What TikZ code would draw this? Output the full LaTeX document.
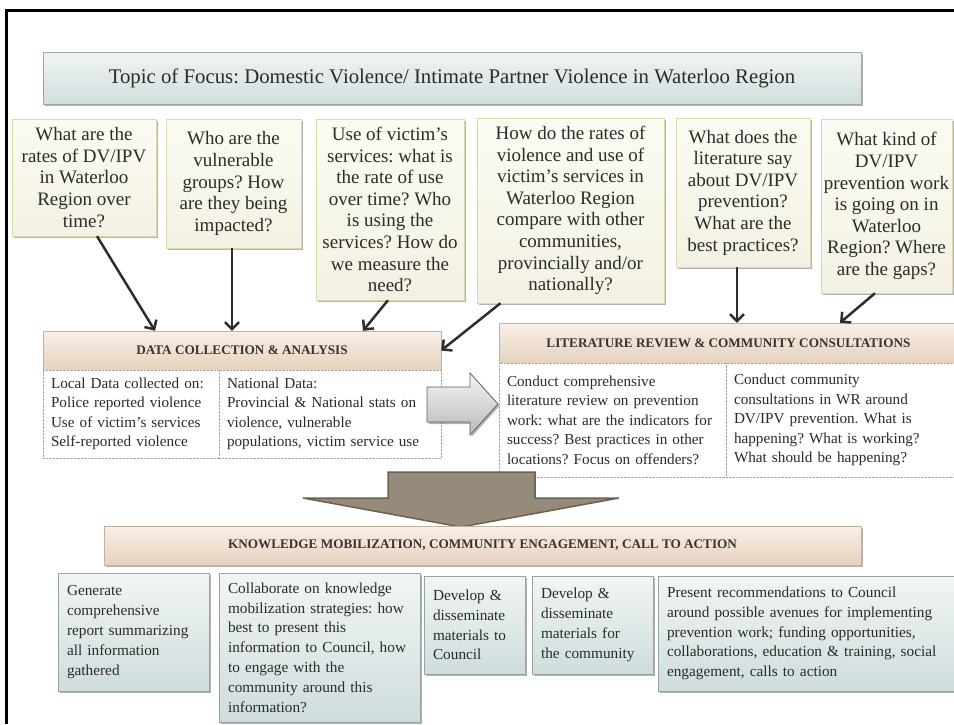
\documentclass[tikz,border=0pt]{standalone}
\usepackage{fontspec}
\setmainfont{Liberation Serif}
\usetikzlibrary{arrows.meta,shadows}
\frenchspacing

\begin{document}
\begin{tikzpicture}[x=1pt,y=-1pt,
    shadowed/.style={drop shadow={shadow xshift=1.5pt,shadow yshift=-2pt,fill=black,opacity=0.3}},
    titlebox/.style={shadowed,draw=title_edge,top color=title_top,bottom color=title_bot,text=txt,
        minimum width=818,minimum height=52,font=\fontsize{20.8}{24}\selectfont},
    qbox/.style={shadowed,draw=q_edge,top color=q_top,bottom color=q_bot,text=txt,align=center,
        inner sep=2pt,font=\fontsize{19}{21.6}\selectfont},
    headbox/.style={draw=head_edge,top color=head_top,bottom color=head_bot,text=head_txt,
        minimum height=39,font=\fontsize{13.2}{15}\selectfont\bfseries},
    panel/.style={draw=panel_edge,densely dotted,fill=white,text=txt,align=left,inner xsep=8pt,
        font=\fontsize{15.2}{19.5}\selectfont},
    actbox/.style={shadowed,draw=act_edge,top color=act_top,bottom color=act_bot,text=txt,align=left,
        inner xsep=9pt,font=\fontsize{15.3}{19.8}\selectfont},
    conn/.style={draw=arrow_col,line width=2.5pt,-{Straight Barb[length=7pt,width=14pt]}}
]
    \definecolor{txt}{HTML}{2B2B2B}
    \definecolor{head_txt}{HTML}{3A3430}
    \definecolor{title_top}{HTML}{F0F4F4}
    \definecolor{title_bot}{HTML}{D2DDDD}
    \definecolor{title_edge}{HTML}{9EA8A8}
    \definecolor{q_top}{HTML}{FCFBF3}
    \definecolor{q_bot}{HTML}{F3F1E3}
    \definecolor{q_edge}{HTML}{DDD8AE}
    \definecolor{head_top}{HTML}{F8EFE6}
    \definecolor{head_bot}{HTML}{E6D2BF}
    \definecolor{head_edge}{HTML}{C4B39C}
    \definecolor{panel_edge}{HTML}{A6A6A6}
    \definecolor{act_top}{HTML}{F1F5F5}
    \definecolor{act_bot}{HTML}{D0DCDC}
    \definecolor{act_edge}{HTML}{96A4A4}
    \definecolor{arrow_col}{HTML}{2E2E2E}
    \definecolor{fat_fill}{HTML}{968B7B}
    \definecolor{fat_edge}{HTML}{6A6152}
    \useasboundingbox (0,0) rectangle (954,724);
    \clip (0,0) rectangle (954,724);
    %\draw[help lines,step=50] (0,0) grid (954,724);
    \draw[line width=3pt] (6,724) -- (6,10) -- (954,10);

    \node[titlebox] (topic) at (452,78)
        {Topic of Focus: Domestic Violence/ Intimate Partner Violence in Waterloo Region};

    % questions
    \node[qbox,minimum width=144,minimum height=117] (rates) at (84,177.5)
        {What are the\\rates of DV/IPV\\in Waterloo\\Region over\\time?};
    \node[qbox,minimum width=135,minimum height=129] (groups) at (233.5,183.5)
        {Who are the\\vulnerable\\groups? How\\are they being\\impacted?};
    \node[qbox,minimum width=148,minimum height=181] (services) at (390,209.5)
        {Use of victim's\\services: what is\\the rate of use\\over time? Who\\is using the\\services? How do\\we measure the\\need?};
    \node[qbox,minimum width=187,minimum height=185] (compare) at (570.5,210.5)
        {How do the rates of\\violence and use of\\victim's services in\\Waterloo Region\\compare with other\\communities,\\provincially and/or\\nationally?};
    \node[qbox,minimum width=134,minimum height=149] (literature) at (743,192.5)
        {What does the\\literature say\\about DV/IPV\\prevention?\\What are the\\best practices?};
    \node[qbox,minimum width=131,minimum height=174] (gaps) at (886.5,206)
        {What kind of\\DV/IPV\\prevention work\\is going on in\\Waterloo\\Region? Where\\are the gaps?};

    % data collection
    \node[headbox,minimum width=398] (datahead) at (242,350.5) {DATA COLLECTION \& ANALYSIS};
    \node[panel,text width=160,minimum height=88] (localdata) at (131,414)
        {Local Data collected on:\\Police reported violence\\Use of victim's services\\Self-reported violence};
    \node[panel,text width=206,minimum height=88] (nationaldata) at (330,414)
        {National Data:\\Provincial \& National stats on\\violence, vulnerable\\populations, victim service use};

    % literature review
    \node[headbox,minimum width=459,minimum height=40] (reviewhead) at (728.5,343)
        {LITERATURE REVIEW \& COMMUNITY CONSULTATIONS};
    \node[panel,text width=211,minimum height=114] (review) at (612.5,420)
        {Conduct comprehensive\\literature review on prevention\\work: what are the indicators for\\success? Best practices in other\\locations? Focus on offenders?};
    \node[panel,text width=216,minimum height=114,inner xsep=8pt] (consult) at (842,420)
        {Conduct community\\consultations in WR around\\DV/IPV prevention. What is\\happening? What is working?\\What should be happening?};

    \draw[conn] ([xshift=13]rates.south) -- ([xshift=-87]datahead.north);
    \draw[conn] ([xshift=-1.5]groups.south) -- ([xshift=-10]datahead.north);
    \draw[conn] ([xshift=-2]services.south) -- ([xshift=121]datahead.north);
    \draw[conn] ([xshift=-70]compare.south) -- (datahead.east);
    \draw[conn] ([xshift=-6]literature.south) -- ([xshift=8.5]reviewhead.north);
    \draw[conn] ([xshift=-11.5]gaps.south) -- ([xshift=111.5]reviewhead.north);

    % arrows between the stages
    \shade[shadowed,draw=gray!75!black,top color=gray!8,bottom color=gray!55,line width=0.8pt]
        (427,387) -- (470,387) -- (470,373) -- (498,404) -- (470,435) -- (470,422) -- (427,422) -- cycle;
    \path[fill=fat_fill,draw=fat_edge,line width=1.5pt]
        (388,472) -- (535,472) -- (535,498) -- (619,498) -- (461,527) -- (303,498) -- (388,498) -- cycle;

    % knowledge mobilization
    \node[headbox,shadowed,minimum width=757] (kmhead) at (482.5,545.5)
        {KNOWLEDGE MOBILIZATION, COMMUNITY ENGAGEMENT, CALL TO ACTION};
    \node[actbox,text width=133,minimum height=118] (report) at (133.5,632)
        {Generate\\comprehensive\\report summarizing\\all information\\gathered};
    \node[actbox,text width=183,minimum height=149] (strategies) at (319.5,647.5)
        {Collaborate on knowledge\\mobilization strategies: how\\best to present this\\information to Council, how\\to engage with the\\community around this\\information?};
    \node[actbox,text width=83,minimum height=98] (council) at (474.5,625)
        {Develop \&\\disseminate\\materials to\\Council};
    \node[actbox,text width=103,minimum height=98] (community) at (592.5,625)
        {Develop \&\\disseminate\\materials for\\the community};
    \node[actbox,text width=284,minimum height=115] (recommend) at (809,633.5)
        {Present recommendations to Council\\around possible avenues for implementing\\prevention work; funding opportunities,\\collaborations, education \& training, social\\engagement, calls to action};
\end{tikzpicture}
\end{document}
